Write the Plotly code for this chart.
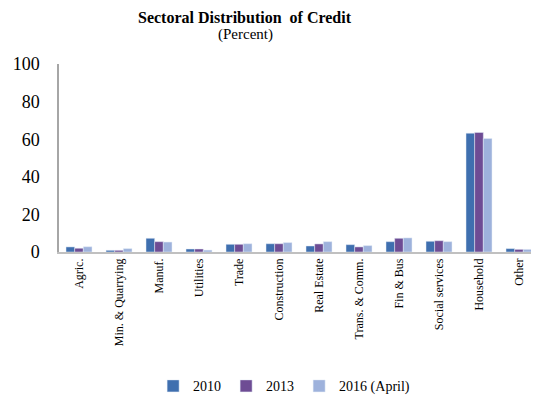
import plotly.graph_objects as go

sectors = ["Agric.", "Min. & Quarrying", "Manuf.", "Utilities", "Trade", "Construction",
           "Real Estate", "Trans. & Comm.", "Fin & Bus", "Social services", "Household", "Other"]
y2010 = [2.7, 0.9, 7.3, 1.6, 4.1, 4.4, 3.2, 3.9, 5.5, 5.7, 63.2, 1.8]
y2013 = [2.0, 0.9, 5.5, 1.6, 4.1, 4.4, 4.3, 2.7, 7.3, 6.0, 63.6, 1.4]
y2016 = [2.8, 1.8, 5.3, 1.0, 4.4, 5.0, 5.5, 3.4, 7.5, 5.5, 60.4, 1.4]

serif = "Liberation Serif"

# page body has an 8px margin, so the figure is drawn 8px smaller and shifted
W, H = 531, 392
L, T, B = 51, 56, 148
title_x = (237 - L) / (W - L)

fig = go.Figure()
fig.add_trace(go.Bar(x=sectors, y=y2010, name="2010", marker_color="#3F6FAF"))
fig.add_trace(go.Bar(x=sectors, y=y2013, name="2013", marker_color="#6E4C94"))
fig.add_trace(go.Bar(x=sectors, y=y2016, name="2016 (April)", marker_color="#9EB2DC"))

fig.update_layout(
    width=W, height=H,
    barmode="group", bargap=0.35, bargroupgap=0,
    paper_bgcolor="white", plot_bgcolor="white",
    font=dict(family=serif, color="black"),
    margin=dict(l=L, r=0, t=T, b=B, autoexpand=False),
    showlegend=True,
    legend=dict(orientation="h", xref="container", yref="container",
                x=0.52, xanchor="center", y=0.035, yanchor="middle",
                font=dict(size=14, family=serif), itemwidth=30, traceorder="normal"),
    annotations=[
        dict(text="<b>Sectoral Distribution  of Credit</b>", xref="paper", yref="paper",
             x=title_x, y=1 + (T - 9) / (H - T - B), showarrow=False,
             font=dict(size=16, family=serif), xanchor="center", yanchor="middle"),
        dict(text="(Percent)", xref="paper", yref="paper",
             x=title_x, y=1 + (T - 27) / (H - T - B), showarrow=False,
             font=dict(size=15, family=serif), xanchor="center", yanchor="middle"),
    ],
)

fig.update_yaxes(range=[0, 100], dtick=20, showgrid=False, zeroline=False, automargin=False,
                 showline=True, linecolor="#A6A6A6", linewidth=1.5,
                 tickfont=dict(size=18, family=serif), ticklabelstandoff=14)
fig.update_xaxes(tickangle=-90, showgrid=False, showline=True, linecolor="#C0C0C0",
                 automargin=False, linewidth=1.5, tickfont=dict(size=12, family=serif), ticks="")

fig.write_html("out.html")
